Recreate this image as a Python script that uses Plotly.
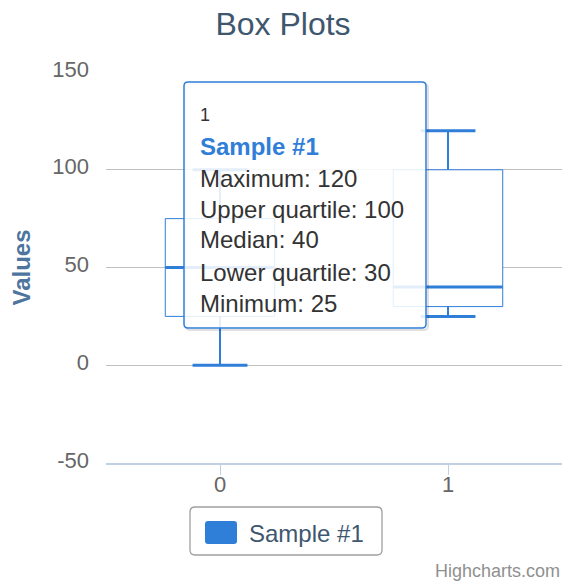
import plotly.graph_objects as go

# ---------------- data ----------------
categories = ["0", "1"]
x_positions = [0, 1]
minimum = [0, 25]
lower_quartile = [25, 30]
median = [50, 40]
upper_quartile = [75, 100]
maximum = [100, 120]
series_name = "Sample #1"
y_ticks = [-50, 0, 50, 100, 150]
y_tick_labels = ["-50", "0", "50", "100", "150"]
hover_index = 1  # the point whose tooltip is shown

# ---------------- style ----------------
COLOR = "#2f7ed8"
FONT = "Liberation Sans, Arial, sans-serif"
W, H = 566, 584
ML, MR, MT, MB = 106, 4, 72, 121
PW, PH = W - ML - MR, H - MT - MB
BOX_W = 0.48
CAP_W = 0.24


def px(xp):
    return (xp - ML) / PW


def py(yp):
    return (H - MB - yp) / PH


def rrect(x0, y0, x1, y1, r):
    pts = [
        ("M", [(x0 + r, y0)]), ("L", [(x1 - r, y0)]), ("Q", [(x1, y0), (x1, y0 + r)]),
        ("L", [(x1, y1 - r)]), ("Q", [(x1, y1), (x1 - r, y1)]), ("L", [(x0 + r, y1)]),
        ("Q", [(x0, y1), (x0, y1 - r)]), ("L", [(x0, y0 + r)]), ("Q", [(x0, y0), (x0 + r, y0)]),
    ]
    s = ""
    for cmd, ps in pts:
        s += cmd + " ".join(f"{px(a):.5f},{py(b):.5f}" for a, b in ps) + " "
    return s + "Z"


fig = go.Figure()
fig.add_trace(go.Box(
    x=x_positions, q1=lower_quartile, median=median, q3=upper_quartile,
    lowerfence=minimum, upperfence=maximum, name=series_name,
    width=BOX_W, whiskerwidth=CAP_W / BOX_W, boxpoints=False,
    line=dict(color=COLOR, width=1), fillcolor="white",
    showlegend=False, hoverinfo="skip",
))

# thicker median, stems and whisker caps (Highcharts style)
mx, my, sx, sy, cx, cy = [], [], [], [], [], []
for x, lo, q1, md, q3, hi in zip(x_positions, minimum, lower_quartile, median, upper_quartile, maximum):
    mx += [x - BOX_W / 2, x + BOX_W / 2, None]
    my += [md, md, None]
    sx += [x, x, None, x, x, None]
    sy += [q3, hi, None, q1, lo, None]
    cx += [x - CAP_W / 2, x + CAP_W / 2, None, x - CAP_W / 2, x + CAP_W / 2, None]
    cy += [hi, hi, None, lo, lo, None]
for xs, ys, w in [(sx, sy, 2), (cx, cy, 3), (mx, my, 3)]:
    fig.add_trace(go.Scatter(x=xs, y=ys, mode="lines", line=dict(color=COLOR, width=w),
                             showlegend=False, hoverinfo="skip"))

shapes = []
# tooltip shadow + body
shapes.append(dict(type="path", xref="paper", yref="paper", layer="above",
                   path=rrect(186, 84, 428, 330, 4), line=dict(color="rgba(0,0,0,0.12)", width=2)))
shapes.append(dict(type="path", xref="paper", yref="paper", layer="above",
                   path=rrect(184, 82, 426, 328, 4), fillcolor="rgba(255,255,255,0.87)",
                   line=dict(color=COLOR, width=1.5)))
# legend box + symbol
shapes.append(dict(type="path", xref="paper", yref="paper", layer="above",
                   path=rrect(190, 507, 382, 555, 5), line=dict(color="#a0a0a0", width=1.3)))
shapes.append(dict(type="path", xref="paper", yref="paper", layer="above",
                   path=rrect(205, 521, 237, 544, 3), fillcolor=COLOR, line=dict(width=0)))

i = hover_index
tip_lines = [
    (categories[i], 18, "#333333", 115),
    (f"<b>{series_name}</b>", 24, COLOR, 146),
    (f"Maximum: {maximum[i]}", 24, "#333333", 178),
    (f"Upper quartile: {upper_quartile[i]}", 24, "#333333", 209),
    (f"Median: {median[i]}", 24, "#333333", 240),
    (f"Lower quartile: {lower_quartile[i]}", 24, "#333333", 272),
    (f"Minimum: {minimum[i]}", 24, "#333333", 303),
]
annotations = []
for txt, size, col, yc in tip_lines:
    annotations.append(dict(text=txt, x=px(198), y=py(yc), xref="paper", yref="paper",
                            xanchor="left", yanchor="middle", showarrow=False,
                            font=dict(family=FONT, size=size, color=col)))
annotations.append(dict(text=series_name, x=px(247), y=py(533), xref="paper", yref="paper",
                        xanchor="left", yanchor="middle", showarrow=False,
                        font=dict(family=FONT, size=24, color="#3E576F")))
annotations.append(dict(text="Highcharts.com", x=px(562), y=py(571), xref="paper", yref="paper",
                        xanchor="right", yanchor="middle", showarrow=False,
                        font=dict(family=FONT, size=18, color="#909090")))

fig.update_layout(
    width=W, height=H,
    margin=dict(l=ML, r=MR, t=MT, b=MB, autoexpand=False),
    paper_bgcolor="white", plot_bgcolor="white",
    font=dict(family=FONT),
    title=dict(text="Box Plots", x=0.5, xanchor="center", y=1 - 24 / H, yanchor="middle",
               font=dict(family=FONT, size=32, color="#3E576F")),
    xaxis=dict(range=[-0.5, 1.5], tickvals=x_positions, ticktext=categories,
               showgrid=False, zeroline=False, showline=True, linecolor="#C0D0E0", linewidth=2,
               ticks="outside", ticklen=10, tickwidth=1, tickcolor="#C0D0E0",
               ticklabelstandoff=-9,
               tickfont=dict(family=FONT, size=22, color="#666666")),
    yaxis=dict(range=[-50, 150], tickvals=y_ticks, ticktext=y_tick_labels,
               showgrid=True, gridcolor="#C0C0C0", gridwidth=1,
               zeroline=False, showline=False, ticks="", ticklabelstandoff=16, ticklabelshift=-3,
               tickfont=dict(family=FONT, size=22, color="#666666"),
               title=dict(text="<b>Values</b>", standoff=14,
                          font=dict(family=FONT, size=24, color="#4d759e"))),
    shapes=shapes, annotations=annotations,
    showlegend=False,
)

fig.write_html("out.html", config={"displayModeBar": False, "staticPlot": True},
               post_script="document.body.style.margin='0';document.body.style.overflow='hidden';")
